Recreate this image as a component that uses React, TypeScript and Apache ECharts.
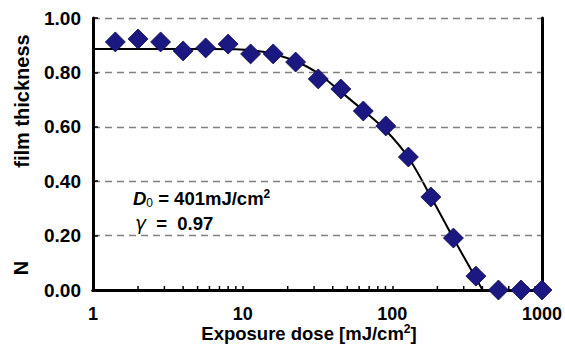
import React, { useEffect, useRef } from "react";
import * as echarts from "echarts";

const doses = [1.41, 2, 2.83, 4, 5.66, 8, 11.3, 16, 22.6, 32, 45.3, 64, 90.5, 128, 181, 256, 362, 512, 724, 1000];
const thickness = [0.912, 0.923, 0.912, 0.879, 0.89, 0.904, 0.868, 0.868, 0.838, 0.776, 0.739, 0.658, 0.603, 0.489, 0.342, 0.191, 0.051, 0, 0, 0];

const fitDoses = [1, 3, 6, 9, 12, 15, 20, 25, 32, 45, 64, 90, 128, 181, 256, 362, 401];
const fitThickness = [0.886, 0.886, 0.886, 0.885, 0.88, 0.872, 0.852, 0.83, 0.796, 0.73, 0.66, 0.588, 0.487, 0.343, 0.19, 0.043, 0];

const minorTickValues = [2, 3, 4, 5, 6, 7, 8, 9, 20, 30, 40, 50, 60, 70, 80, 90, 200, 300, 400, 500, 600, 700, 800, 900];

const FONT = "'Liberation Sans', Arial, sans-serif";
const FS = 18.5;

const frameLine = { show: true, lineStyle: { color: "#000", width: 3 } };

export default function App() {
  const ref = useRef<HTMLDivElement>(null);
  useEffect(() => {
    if (!ref.current) return;
    const chart = echarts.init(ref.current, null, { renderer: "svg" });
    chart.setOption({
      animation: false,
      backgroundColor: "#ffffff",
      grid: {
        left: 93,
        right: 23,
        top: 18,
        bottom: 54,
        show: false,
      },
      xAxis: [
        {
          type: "log",
          logBase: 10,
          min: 1,
          max: 1000,
          axisLine: frameLine,
          axisTick: { show: true, inside: true, length: 4, lineStyle: { color: "#000", width: 1.5 } },
          splitLine: { show: false },
          axisLabel: {
            margin: 15,
            color: "#000",
            fontFamily: FONT,
            fontWeight: "bold",
            fontSize: 18,
            formatter: (v: number) => String(Math.round(v)),
          },
          z: 5,
        },
        {
          type: "log",
          logBase: 10,
          min: 1,
          max: 1000,
          position: "top",
          axisLine: frameLine,
          axisTick: { show: false },
          axisLabel: { show: false },
          splitLine: { show: false },
          z: 5,
        },
      ],
      yAxis: [
        {
          type: "value",
          min: 0,
          max: 1,
          interval: 0.2,
          axisLine: frameLine,
          axisTick: { show: true, inside: true, length: 5, lineStyle: { color: "#000", width: 1.5 } },
          splitLine: { show: true, lineStyle: { color: "#808080", type: [7, 5], width: 1.3 } },
          axisLabel: {
            margin: 12,
            color: "#000",
            fontFamily: FONT,
            fontWeight: "bold",
            fontSize: 19,
            formatter: (v: number) => v.toFixed(2),
          },
          z: 5,
        },
        {
          type: "value",
          min: 0,
          max: 1,
          interval: 0.2,
          position: "right",
          axisLine: frameLine,
          axisTick: { show: false },
          axisLabel: { show: false },
          splitLine: { show: false },
          z: 5,
        },
      ],
      series: [
        {
          type: "scatter",
          data: minorTickValues.map((d) => [d, 0]),
          symbol: "rect",
          symbolSize: [1.5, 4],
          symbolOffset: [0, -2],
          itemStyle: { color: "#000", opacity: 1 },
          silent: true,
          z: 1,
        },
        {
          type: "line",
          data: fitDoses.map((d, i) => [d, fitThickness[i]]),
          smooth: 0.3,
          showSymbol: false,
          lineStyle: { color: "#000", width: 2 },
          z: 2,
        },
        {
          type: "scatter",
          data: doses.map((d, i) => [d, thickness[i]]),
          symbol: "diamond",
          symbolSize: [20, 20],
          itemStyle: { color: "#1c1882", borderColor: "#0c0a4a", borderWidth: 0.8, opacity: 1 },
          clip: false,
          z: 10,
        },
      ],
      graphic: [
        {
          type: "text",
          left: 133,
          top: 188,
          style: {
            text: "{d|D}{s|0}{b| = 401mJ/cm}{p|2}",
            rich: {
              d: { fontFamily: FONT, fontWeight: "bold", fontStyle: "italic", fontSize: FS, fill: "#000" },
              s: { fontFamily: FONT, fontWeight: "normal", fontSize: 12, fill: "#000", padding: [9, 0, 0, 0] },
              b: { fontFamily: FONT, fontWeight: "bold", fontSize: FS, fill: "#000" },
              p: { fontFamily: FONT, fontWeight: "bold", fontSize: 12, fill: "#000", padding: [0, 0, 9, 0] },
            },
          },
        },
        {
          type: "text",
          left: 135,
          top: 214,
          style: {
            text: "{g|γ}{b|  =  0.97}",
            rich: {
              g: { fontFamily: "'DejaVu Sans', sans-serif", fontStyle: "italic", fontSize: FS, fill: "#000" },
              b: { fontFamily: FONT, fontWeight: "bold", fontSize: FS, fill: "#000" },
            },
          },
        },
        {
          type: "text",
          x: 309,
          y: 333,
          style: {
            text: "{b|Exposure dose [mJ/cm}{p|2}{b|]}",
            align: "center",
            verticalAlign: "middle",
            rich: {
              b: { fontFamily: FONT, fontWeight: "bold", fontSize: FS, fill: "#000" },
              p: { fontFamily: FONT, fontWeight: "bold", fontSize: 12, fill: "#000", padding: [0, 0, 9, 0] },
            },
          },
        },
        {
          type: "text",
          x: 22,
          y: 101,
          rotation: Math.PI / 2,
          style: {
            text: "film thickness",
            align: "center",
            verticalAlign: "middle",
            fontFamily: FONT,
            fontWeight: "bold",
            fontSize: 20,
            fill: "#000",
          },
        },
        {
          type: "text",
          x: 21,
          y: 268,
          rotation: Math.PI / 2,
          style: {
            text: "N",
            align: "center",
            verticalAlign: "middle",
            fontFamily: FONT,
            fontWeight: "bold",
            fontSize: 20,
            fill: "#000",
          },
        },
      ],
    });
    return () => chart.dispose();
  }, []);
  return <div ref={ref} style={{ width: 565, height: 344, position: "absolute", left: 0, top: 0 }} />;
}
